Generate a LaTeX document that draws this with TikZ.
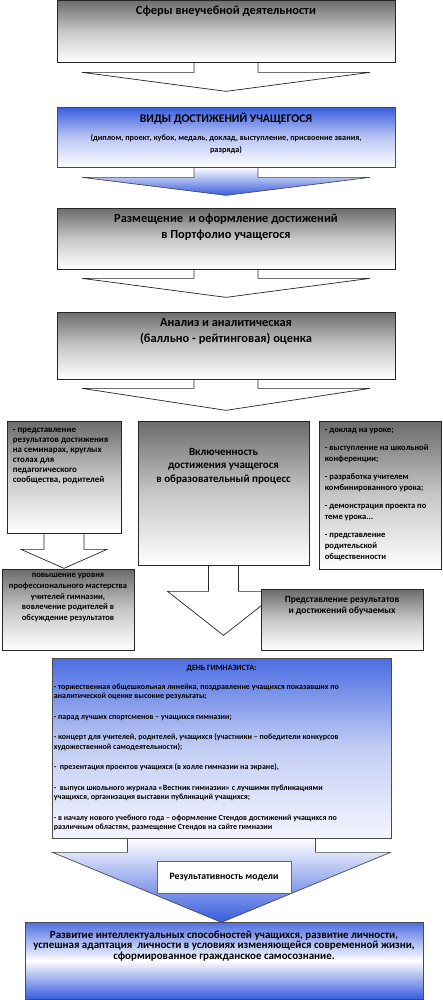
\documentclass[tikz,border=0pt]{standalone}
\usepackage{fontspec}
\setmainfont{Carlito}
\usetikzlibrary{positioning, calc, fit, backgrounds}

\definecolor{royal}{RGB}{55,92,222}

% block arrow hanging under a box: style, anchor, shaft half, shaft length, head half, total length
\newcommand{\downblock}[6]{%
  \draw[#1] ($(#2)+(-#3,0)$) -- ($(#2)+(-#3,#4)$) -- ($(#2)+(-#5,#4)$)
    -- ($(#2)+(0,#6)$) -- ($(#2)+(#5,#4)$) -- ($(#2)+(#3,#4)$) -- ($(#2)+(#3,0)$);}

\tikzset{
  greybox/.style={draw=black!85, line width=0.6pt, inner sep=0pt,
    top color=black!58, bottom color=white, middle color=black!22},
  bluebox/.style={draw=black!70, line width=0.6pt, inner sep=0pt,
    top color=royal, bottom color=white, middle color=royal!35},
  dayblue/.style={draw=black!70, line width=0.6pt, inner sep=0pt,
    top color=royal!90, bottom color=blue!4, middle color=royal!30},
  finalblue/.style={draw=black!70, line width=0.6pt, inner sep=0pt,
    top color=royal!90, bottom color=royal, middle color=white},
  resultbox/.style={draw=black!60, line width=0.5pt, fill=white, inner sep=0pt},
  greyarrow/.style={draw=black!85, line width=0.6pt, fill=white, line join=miter},
  bluearrow/.style={draw=black!70, line width=0.6pt, top color=white, bottom color=royal, line join=miter},
  headtext/.style={font={\fontsize{10.6}{13.6}\selectfont\bfseries}, align=center, anchor=north, inner sep=0pt},
  midtext/.style={font={\fontsize{9.4}{11.4}\selectfont\bfseries}, align=center, anchor=north, inner sep=0pt},
  smalltext/.style={font={\fontsize{7.6}{8.6}\selectfont\bfseries}, inner sep=0pt},
  daytext/.style={font={\fontsize{6.8}{7.8}\selectfont\bfseries}, inner sep=0pt}
}

\begin{document}
\begin{tikzpicture}[x=0.03cm, y=-0.03cm]
\useasboundingbox (0,0) rectangle (442,1000);

% boxes
\node[greybox, fit={(57,0) (395,62)}] (sfery) {};
\node[bluebox, fit={(57,107) (395,167)}] (vidy) {};
\node[greybox, fit={(57,208) (395,269)}] (portfolio) {};
\node[greybox, fit={(57,312) (395,379)}] (analiz) {};
\node[greybox, fit={(7,421) (121,533)}] (seminar) {};
\node[greybox, fit={(138,421) (309,565)}] (vkl) {};
\node[greybox, fit={(319,421) (441,569)}] (urok) {};
\node[greybox, fit={(2,569) (134,650)}] (master) {};
\node[dayblue, fit={(52,658) (391,838)}] (den) {};
\node[finalblue, fit={(25,922) (423,999)}] (razv) {};

% arrows
\begin{pgfonlayer}{background}
\fill[white] (0,0) rectangle (442,1000);
\downblock{greyarrow}{sfery.south}{32}{10}{144}{29}
\downblock{bluearrow}{vidy.south}{32}{10}{144}{28}
\downblock{greyarrow}{portfolio.south}{32}{9}{144}{28}
\downblock{greyarrow}{analiz.south}{32}{9}{144}{31}
\downblock{greyarrow}{seminar.south}{20}{16}{43}{35}
\downblock{greyarrow}{vkl.south}{15}{26}{56}{70}
\downblock{bluearrow}{den.south}{94}{14}{169}{84}
\end{pgfonlayer}

\node[greybox, fit={(261,589) (423,650)}] (predst) {};
\node[resultbox, fit={(157,861) (291,893)}] (rez) {};

% texts
\node[headtext] (t-sfery) at ($(sfery.north)+(0,6.3)$) {Сферы внеучебной деятельности};
\node[headtext, font={\fontsize{10}{13}\selectfont\bfseries}] (t-vidy) at ($(vidy.north)+(0,6.5)$) {ВИДЫ ДОСТИЖЕНИЙ УЧАЩЕГОСЯ};
\node[smalltext, font={\fontsize{7}{10}\selectfont\bfseries}, align=center, anchor=north] (t-vidy2) at ($(vidy.north)+(0,28)$)
  {(диплом, проект, кубок, медаль, доклад, выступление, присвоение звания,\\ разряда)};
\node[headtext] (t-portfolio) at ($(portfolio.north)+(0,6.3)$) {Размещение\ \ и оформление достижений\\ в Портфолио учащегося};
\node[headtext] (t-analiz) at ($(analiz.north)+(0,6.3)$) {Анализ и аналитическая\\ (балльно - рейтинговая) оценка};
\node[smalltext, align=left, anchor=north west] (t-seminar) at ($(seminar.north west)+(6,6.8)$)
  {- представление\\ результатов достижения\\ на семинарах, круглых\\ столах для\\ педагогического\\ сообщества, родителей};
\node[midtext] (t-vkl) at ($(vkl.north)+(0,27.5)$) {Включенность\\ достижения учащегося\\ в образовательный процесс};
\node[smalltext, font={\fontsize{7.3}{9.4}\selectfont\bfseries}, align=left, anchor=north west] (t-urok) at ($(urok.north west)+(6,7)$)
  {- доклад на уроке;\\[6pt] - выступление на школьной\\ конференции;\\[6pt] - разработка учителем\\ комбинированного урока;\\[6pt]
   - демонстрация проекта по\\ теме урока...\\[6pt] - представление\\ родительской\\ общественности};
\node[smalltext, font={\fontsize{7.3}{9.1}\selectfont\bfseries}, align=center, anchor=north] (t-master) at ($(master.north)+(0,4.8)$)
  {повышение уровня\\ профессионального мастерства\\ учителей гимназии,\\ вовлечение родителей в\\ обсуждение результатов};
\node[smalltext, font={\fontsize{8.1}{9.4}\selectfont\bfseries}, align=center, anchor=north] (t-predst) at ($(predst.north)+(0,7.3)$)
  {Представление результатов\\ и достижений обучаемых};
\node[daytext, anchor=north] (t-den) at ($(den.north)+(0,7)$) {ДЕНЬ ГИМНАЗИСТА:};
\node[daytext, align=left, anchor=north west] (t-items) at ($(den.north west)+(2,25.7)$)
  {- торжественная общешкольная линейка, поздравление учащихся показавших по\\ аналитической оценке высокие результаты;\\[10pt]
   - парад лучших спортсменов – учащихся гимназии;\\[10pt]
   - концерт для учителей, родителей, учащихся (участники – победители конкурсов\\ художественной самодеятельности);\\[10pt]
   -\ \ презентация проектов учащихся (в холле гимназии на экране),\\[10pt]
   -\ \ выпуск школьного журнала «Вестник гимназии» с лучшими публикациями\\ учащихся, организация выставки публикаций учащихся;\\[10pt]
   - в началу нового учебного года – оформление Стендов достижений учащихся по\\ различным областям, размещение Стендов на сайте гимназии};
\node[smalltext, font={\fontsize{8.3}{9}\selectfont\bfseries}] (t-rez) at (rez.center) {Результативность модели};
\node[midtext, font={\fontsize{9.35}{8.9}\selectfont\bfseries}] (t-razv) at ($(razv.north)+(0,8.8)$)
  {Развитие интеллектуальных способностей учащихся, развитие личности,\\ успешная адаптация\ \ личности в условиях изменяющейся современной жизни,\\ сформированное гражданское самосознание.};
\end{tikzpicture}
\end{document}
